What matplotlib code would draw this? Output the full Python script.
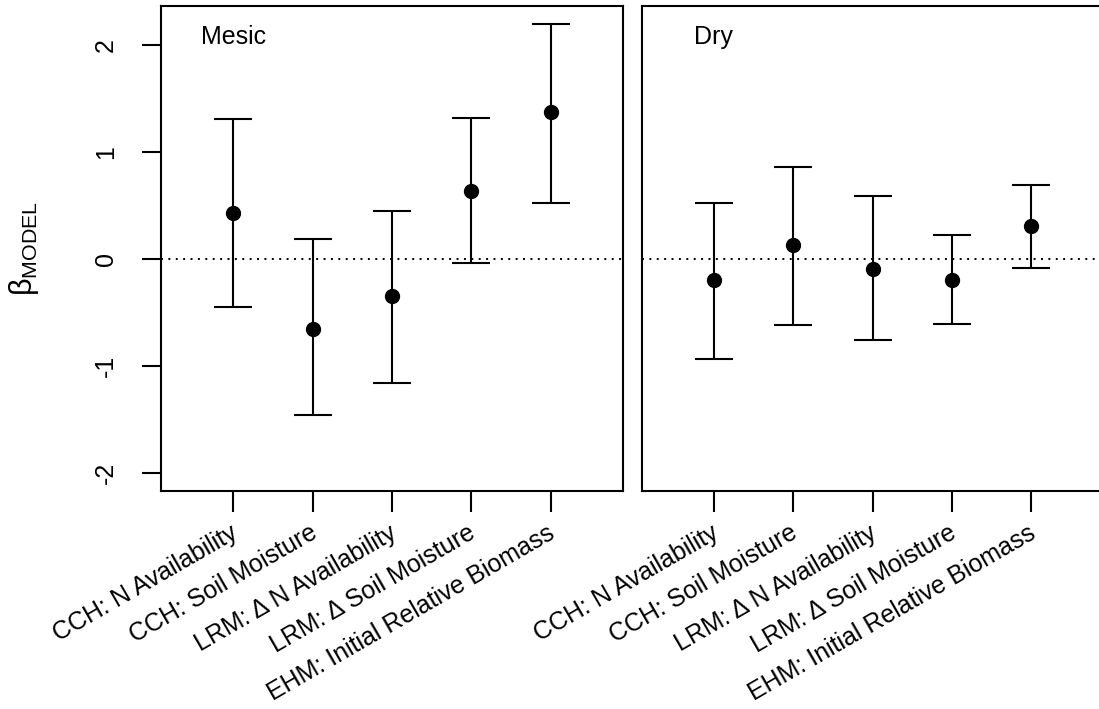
import matplotlib
matplotlib.use("Agg")
import matplotlib.pyplot as plt
import matplotlib.transforms as mtransforms
import numpy as np

plt.rcParams['font.family'] = ['Liberation Sans', 'DejaVu Sans']
plt.rcParams['mathtext.fontset'] = 'custom'
plt.rcParams['mathtext.rm'] = 'Liberation Sans'
plt.rcParams['mathtext.it'] = 'Liberation Sans:italic'

categories = ["CCH: N Availability", "CCH: Soil Moisture", "LRM: \u0394 N Availability",
              "LRM: \u0394 Soil Moisture", "EHM: Initial Relative Biomass"]
panels = ["Mesic", "Dry"]

mesic_est = [0.43, -0.65, -0.34, 0.64, 1.38]
mesic_lo = [-0.45, -1.46, -1.16, -0.04, 0.53]
mesic_hi = [1.31, 0.19, 0.45, 1.32, 2.20]

dry_est = [-0.19, 0.13, -0.09, -0.19, 0.31]
dry_lo = [-0.93, -0.62, -0.76, -0.61, -0.08]
dry_hi = [0.53, 0.86, 0.59, 0.23, 0.69]

yticks = [-2, -1, 0, 1, 2]
ytick_labels = ["-2", "-1", "0", "1", "2"]

FS = 18
W, H = 1099, 709
fig = plt.figure(figsize=(W / 100, H / 100), dpi=100)

ax_w = 462 / W
ax_b = (H - 491) / H
ax_h = 485 / H
axes = [fig.add_axes([161 / W, ax_b, ax_w, ax_h]),
        fig.add_axes([641.7 / W, ax_b, ax_w, ax_h])]

data = [(mesic_est, mesic_lo, mesic_hi), (dry_est, dry_lo, dry_hi)]
x = np.arange(1, len(categories) + 1)

for i, (ax, (est, lo, hi), name) in enumerate(zip(axes, data, panels)):
    est = np.array(est); lo = np.array(lo); hi = np.array(hi)
    ax.axhline(0, color='black', lw=1.4, linestyle=(0, (1, 2.8)), zorder=1)
    ax.errorbar(x, est, yerr=[est - lo, hi - est], fmt='o', color='black',
                ms=10, elinewidth=1.5, capsize=14, capthick=1.5, zorder=3)
    ax.set_xlim(0.09, 5.91)
    ax.set_ylim(-2.168, 2.368)
    for s in ax.spines.values():
        s.set_linewidth(1.5)
    ax.set_xticks(x)
    ax.set_xticklabels([])
    ax.tick_params(axis='x', direction='out', length=15, width=1.5)
    trans = mtransforms.blended_transform_factory(ax.transData, ax.transAxes)
    for xi, lab in zip(x, categories):
        ax.text(xi + 0.03, -0.083, lab, transform=trans, rotation=30,
                rotation_mode='anchor', ha='right', va='center', fontsize=FS,
                clip_on=False)
    ax.text(1, 2.075, name, ha='center', va='center', fontsize=FS)
    if i == 0:
        ax.set_yticks(yticks)
        ax.set_yticklabels(ytick_labels, rotation=90, va='center', fontsize=FS)
        ax.tick_params(axis='y', direction='out', length=14, width=1.5, pad=17)
        ax.set_ylabel(r'$\mathrm{\beta}_{\mathrm{MODEL}}$', fontsize=FS + 4, labelpad=38)
    else:
        ax.set_yticks([])

fig.savefig("out.png", dpi=100, facecolor='white')
